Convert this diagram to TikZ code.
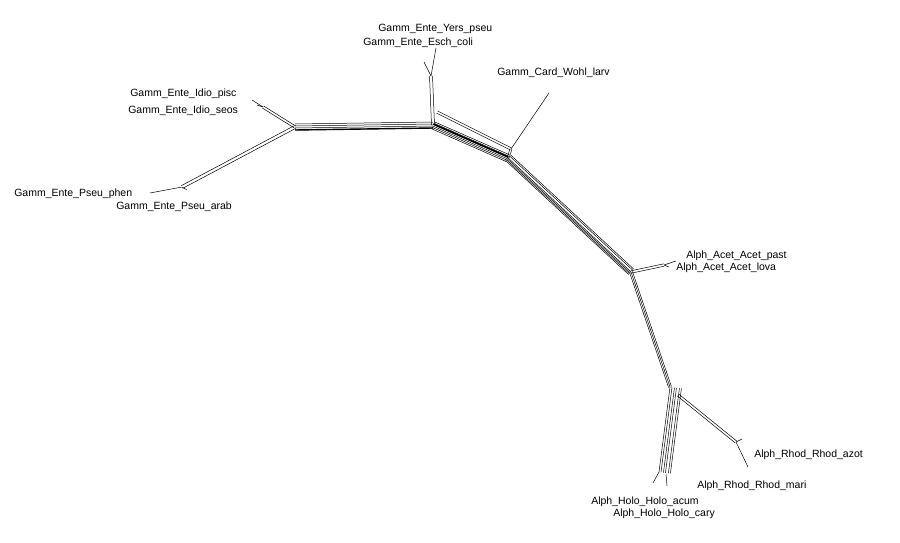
\documentclass[tikz,border=0pt]{standalone}
\usepackage{fontspec}
\setmainfont{Liberation Sans}
\usetikzlibrary{calc}
% parallel split lines between two points, offsets in pt
\def\band[#1](#2)(#3){\foreach \k in {#1} {\draw ($(#2)!\k pt!90:(#3)$) -- ($(#3)!\k pt!-90:(#2)$);}}

\begin{document}
\begin{tikzpicture}[x=1pt,y=-1pt,line width=0.5pt,
  taxon/.style={font=\fontsize{10.5}{12}\selectfont,inner sep=0pt,anchor=west}]
	\useasboundingbox (0,0) rectangle (900,543);
	%%%%% JUNCTIONS %%%%%
	\coordinate (lh) at (295,127);
	\coordinate (rh) at (433,125);
	\coordinate (cw) at (508,158);
	\coordinate (ac) at (631,272);
	\coordinate (hr) at (670,387);
	\coordinate (ho) at (659,472);
	\coordinate (hc) at (666,474);
	\coordinate (rs) at (678,395);
	\coordinate (rb) at (736,442);
	\coordinate (ys) at (431,76);
	\coordinate (bt1) at (437,112);
	\coordinate (bt2) at (511,149);
	\coordinate (id) at (263,107);
	\coordinate (ps) at (182,187);
	\coordinate (al) at (664,265);
	
	%%%%% LEAVES %%%%%
	\coordinate (l_yers) at (436,48);
	\coordinate (l_esch) at (424,62);
	\coordinate (l_wohl) at (549,93);
	\coordinate (l_pisc) at (252,100);
	\coordinate (l_seos) at (257,105);
	\coordinate (l_phen) at (150,193);
	\coordinate (l_arab) at (187,190);
	\coordinate (l_past) at (676,261);
	\coordinate (l_lova) at (669,267);
	\coordinate (l_azot) at (742,439);
	\coordinate (l_mari) at (748,467);
	\coordinate (l_acum) at (653,483);
	\coordinate (l_cary) at (667,486);
	
	%%%%% SPLITS %%%%%
	\band[-3,-1,1,3](lh)(rh);
	\draw[line width=1.4pt] ($(lh)!3pt!-90:(rh)$) -- ($(rh)!3pt!90:(lh)$);
	\band[-1.2,1.2](lh)(id);
	\band[-1.5,1.5](lh)(ps);
	\band[-1.5,1.5](rh)(ys);
	\band[-1.2,1.2](bt1)(bt2);
	\band[-1,1](bt2)(cw);
	\band[-4,-2.5,-1,0.5,2,3.5](rh)(cw);
	\draw[line width=1.6pt] ($(rh)!1pt!90:(cw)$) -- ($(cw)!1pt!-90:(rh)$);
	\band[-3.5,-2.3,-1.1,0.1,2.5,4](cw)(ac);
	\band[-1.5,0,1.5](ac)(hr);
	\band[-1.2,1.2](ac)(al);
	\band[0,2,4.5,6.5,9.5,11.5](hr)(ho);
	\band[-1.2,1.2](rs)(rb);
	
	%%%%% TERMINAL EDGES %%%%%
	\draw (ys) -- (l_yers);
	\draw (ys) -- (l_esch);
	\draw (bt2) -- (l_wohl);
	\draw (id) -- (l_pisc);
	\draw (id) -- (l_seos);
	\draw (ps) -- (l_phen);
	\draw (ps) -- (l_arab);
	\draw (al) -- (l_past);
	\draw (al) -- (l_lova);
	\draw (rb) -- (l_azot);
	\draw (rb) -- (l_mari);
	\draw (ho) -- (l_acum);
	\draw (hc) -- (l_cary);
	
	%%%%% LABELS %%%%%
	\node[taxon] (t_yers) at (378,29) {Gamm\_Ente\_Yers\_pseu};
	\node[taxon] (t_esch) at (363,43) {Gamm\_Ente\_Esch\_coli};
	\node[taxon] (t_wohl) at (497,73) {Gamm\_Card\_Wohl\_larv};
	\node[taxon] (t_pisc) at (130,94) {Gamm\_Ente\_Idio\_pisc};
	\node[taxon] (t_seos) at (128,111) {Gamm\_Ente\_Idio\_seos};
	\node[taxon] (t_phen) at (14,194) {Gamm\_Ente\_Pseu\_phen};
	\node[taxon] (t_arab) at (116,207) {Gamm\_Ente\_Pseu\_arab};
	\node[taxon] (t_past) at (686,256) {Alph\_Acet\_Acet\_past};
	\node[taxon] (t_lova) at (676,268) {Alph\_Acet\_Acet\_lova};
	\node[taxon] (t_azot) at (754,455) {Alph\_Rhod\_Rhod\_azot};
	\node[taxon] (t_mari) at (697,486) {Alph\_Rhod\_Rhod\_mari};
	\node[taxon] (t_acum) at (591,502) {Alph\_Holo\_Holo\_acum};
	\node[taxon] (t_cary) at (613,514) {Alph\_Holo\_Holo\_cary};
\end{tikzpicture}
\end{document}
